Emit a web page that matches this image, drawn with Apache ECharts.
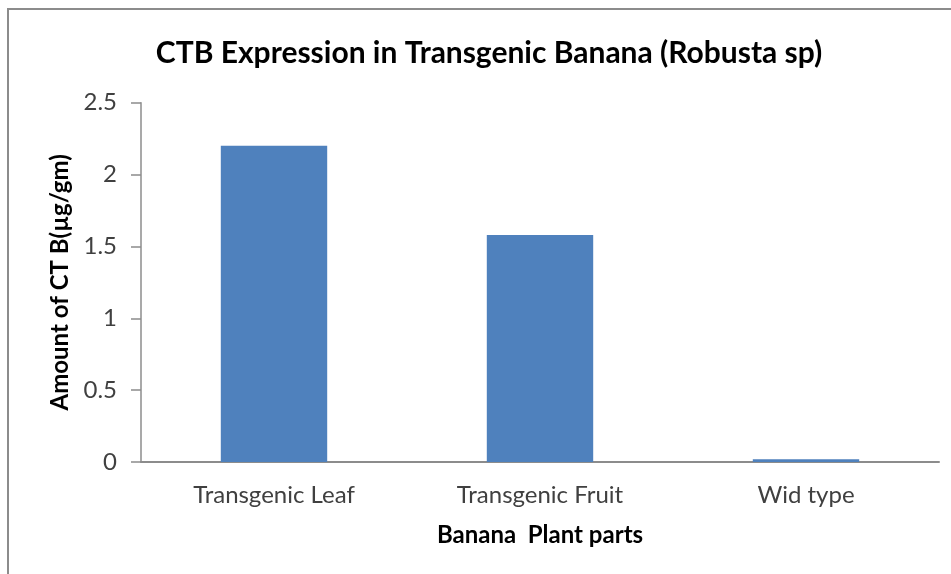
<!DOCTYPE html>
<html><head><meta charset="utf-8">
<script src="https://cdn.jsdelivr.net/npm/echarts@6/dist/echarts.min.js"></script>
<style>html,body{margin:0;padding:0;background:#fff}#c{width:951px;height:574px}</style>
</head><body><div id="c"></div>
<script>
var categories = ['Transgenic Leaf', 'Transgenic Fruit', 'Wid type'];
var values = [2.2, 1.58, 0.02];
var yTicks = [0, 0.5, 1, 1.5, 2, 2.5];
var titleText = 'CTB Expression in Transgenic Banana (Robusta sp)';
var yName = 'Amount of CT B(µg/gm)';
var xName = 'Banana  Plant parts';

var F = 'Lato, "Open Sans", sans-serif';
var chart = echarts.init(document.getElementById('c'), null, {renderer: 'canvas'});
chart.setOption({
  animation: false,
  backgroundColor: '#fff',
  graphic: [{type: 'rect', shape: {x: 8, y: 9, width: 1000, height: 1000},
    style: {fill: 'none', stroke: '#8c8c8c', lineWidth: 2}, silent: true, z: -1}],
  title: {text: titleText, left: 484, top: 33, textAlign: 'center',
    textStyle: {fontFamily: F, fontSize: 30, fontWeight: 'bold', color: '#000'}},
  grid: {left: 141, right: 12, top: 102.7, bottom: 112},
  xAxis: {type: 'category', data: categories,
    axisLine: {lineStyle: {color: '#8c8c8c', width: 2}},
    axisTick: {show: false},
    axisLabel: {color: '#404040', fontFamily: F, fontSize: 24, margin: 21},
    name: xName, nameLocation: 'middle', nameGap: 61,
    nameTextStyle: {fontFamily: F, fontSize: 24, fontWeight: 'bold', color: '#000'}},
  yAxis: {type: 'value', min: yTicks[0], max: yTicks[yTicks.length - 1], interval: 0.5,
    axisLine: {show: true, lineStyle: {color: '#8c8c8c', width: 1.5}},
    axisTick: {show: true, length: 10, lineStyle: {color: '#8c8c8c', width: 1.5}},
    splitLine: {show: false},
    axisLabel: {color: '#404040', fontFamily: F, fontSize: 24, margin: 24},
    name: yName, nameLocation: 'middle', nameGap: 63,
    nameTextStyle: {fontFamily: F, fontSize: 24, fontWeight: 'bold', color: '#000'}},
  series: [{type: 'bar', data: values, barWidth: '40%',
    itemStyle: {color: '#4F81BD'}}]
});
</script></body></html>
